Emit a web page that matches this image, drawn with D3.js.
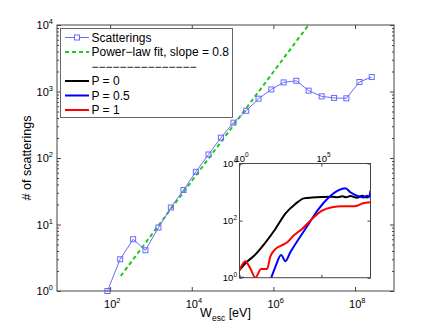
<!DOCTYPE html>
<html>
<head>
<meta charset="utf-8">
<script src="https://cdn.jsdelivr.net/npm/d3@7"></script>
<style>
  body { margin: 0; background: #fff; }
  text { font-family: "Liberation Sans", Arial, sans-serif; fill: #000; }
</style>
</head>
<body>
<svg width="436" height="328"></svg>
<script>
// datos principales
const scatX = [86, 176, 366, 734, 1530, 3080, 6270, 1.26e4, 2.57e4, 5.18e4, 1.05e5, 2.16e5,
               4.33e5, 8.88e5, 1.78e6, 3.64e6, 7.3e6, 1.52e7, 3.06e7, 6.13e7, 1.28e8, 2.56e8];
const scatY = [1, 3, 6, 4.1, 9, 18, 33, 62, 113, 202, 340, 513,
               780, 1075, 1370, 1450, 1030, 845, 800, 790, 1390, 1650];
const fitX = [182, 7.24e6];
const fitY = [1.68, 1e4];

// datos del recuadro
const p0X = [1, 2.3, 9.3, 38, 155, 630, 2570, 8300, 2.7e4, 1.1e5, 4.5e5, 1e6, 1.9e6, 3.2e6, 5.9e6, 1.5e7, 3.1e7, 6.2e7, 1e8];
const p0Y = [1.86, 3.2, 6.5, 17, 51, 174, 380, 600, 645, 675, 690, 660, 710, 660, 725, 630, 740, 645, 775];
const p05X = [1, 1.8, 2.5, 32, 87, 155, 350, 630, 1290, 4200, 1.7e4, 6.9e4, 2.8e5, 1.15e6, 2.95e6, 5.9e6, 1.5e7, 3.9e7, 6.2e7, 7.9e7, 1e8];
const p05Y = [1, 1, 0.3, 0.16, 1, 2.4, 6.2, 3.8, 7.9, 23, 78, 257, 645, 1175, 1350, 980, 740, 645, 740, 660, 1120];
const p1X = [1, 2.3, 4.6, 9.3, 21, 48, 76, 155, 400, 790, 2040, 6600, 2.7e4, 1.1e5, 4.5e5, 1.9e6, 7.6e6, 1.5e7, 3.1e7, 1e8];
const p1Y = [1.86, 3.8, 2.1, 1, 2, 2, 5.4, 10, 13.8, 17, 30, 51, 115, 224, 295, 316, 316, 331, 400, 436];

// ejes y leyenda
const mainXTicks = [1e2, 1e4, 1e6, 1e8];
const mainYTicks = [1, 10, 100, 1000, 10000];
const insetXTicks = [1, 1e5];
const insetYTicks = [1, 100, 10000];
const legendLabels = ["Scatterings", "Power\u2212law fit, slope = 0.8",
  "\u2212\u2212\u2212\u2212\u2212\u2212\u2212\u2212\u2212\u2212\u2212\u2212\u2212\u2212\u2212",
  "P = 0", "P = 0.5", "P = 1"];

const svg = d3.select("svg");
const axisColor = "#444";
const scatColor = "#6a6aff";
const fitColor = "#1ec81e";

const x = d3.scaleLog().domain([5, 9e8]).range([57, 394]);
const y = d3.scaleLog().domain([1, 1e4]).range([291, 25]);

// minor ticks en y
const minorY = [];
for (let d = 1; d < 1e4; d *= 10) for (let k = 2; k <= 9; k++) minorY.push(d * k);

function exp10(v) { return Math.round(Math.log10(v)); }

// texto "10^n"
function powLabel(g, px, py, v, size, anchor) {
  const t = g.append("text").attr("x", px).attr("y", py)
    .attr("font-size", size).attr("text-anchor", anchor);
  t.append("tspan").text("10");
  t.append("tspan").attr("dy", -size * 0.45).attr("font-size", size * 0.68).text(exp10(v));
  return t;
}

function drawTicks(g, xs, ys, xTicks, yTicks, yMinor, big) {
  const [x0, x1] = xs.range(), [y0, y1] = ys.range();
  g.append("g").attr("transform", `translate(0,${y0})`)
    .call(d3.axisBottom(xs).tickValues(xTicks).tickSize(-big).tickSizeOuter(0).tickFormat(""));
  g.append("g").attr("transform", `translate(0,${y1})`)
    .call(d3.axisTop(xs).tickValues(xTicks).tickSize(-big).tickSizeOuter(0).tickFormat(""));
  g.append("g").attr("transform", `translate(${x0},0)`)
    .call(d3.axisLeft(ys).tickValues(yTicks).tickSize(-big).tickSizeOuter(0).tickFormat(""));
  g.append("g").attr("transform", `translate(${x1},0)`)
    .call(d3.axisRight(ys).tickValues(yTicks).tickSize(-big).tickSizeOuter(0).tickFormat(""));
  if (yMinor) {
    g.append("g").attr("transform", `translate(${x0},0)`)
      .call(d3.axisLeft(ys).tickValues(yMinor).tickSize(-2).tickSizeOuter(0).tickFormat(""));
    g.append("g").attr("transform", `translate(${x1},0)`)
      .call(d3.axisRight(ys).tickValues(yMinor).tickSize(-2).tickSizeOuter(0).tickFormat(""));
  }
  g.selectAll(".domain").remove();
  g.selectAll(".tick line").attr("stroke", axisColor);
  g.append("rect").attr("x", x0).attr("y", y1).attr("width", x1 - x0).attr("height", y0 - y1)
    .attr("fill", "none").attr("stroke", axisColor);
}

svg.append("defs").append("clipPath").attr("id", "clipMain")
  .append("rect").attr("x", 57).attr("y", 25).attr("width", 337).attr("height", 266);

// ajuste potencia
svg.append("path")
  .attr("clip-path", "url(#clipMain)")
  .attr("d", d3.line().x(d => x(d[0])).y(d => y(d[1]))(d3.zip(fitX, fitY)))
  .attr("fill", "none").attr("stroke", fitColor).attr("stroke-width", 2).attr("stroke-dasharray", "4,3");

// scatterings
const scat = d3.zip(scatX, scatY);
svg.append("path")
  .attr("d", d3.line().x(d => x(d[0])).y(d => y(d[1]))(scat))
  .attr("fill", "none").attr("stroke", scatColor).attr("stroke-width", 1);
svg.selectAll(".sq").data(scat).join("rect")
  .attr("x", d => x(d[0]) - 2.5).attr("y", d => y(d[1]) - 2.5)
  .attr("width", 5).attr("height", 5)
  .attr("fill", "none").attr("stroke", scatColor).attr("stroke-width", 1);

drawTicks(svg.append("g"), x, y, mainXTicks, mainYTicks, minorY, 4);

// etiquetas de ejes
mainXTicks.forEach(v => powLabel(svg, x(v) - 6, 308, v, 11, "start"));
mainYTicks.forEach(v => powLabel(svg, 53, y(v) + 4, v, 11, "end"));

const xl = svg.append("text").attr("x", 225.5).attr("y", 317).attr("text-anchor", "middle").attr("font-size", 12.5);
xl.append("tspan").text("W");
xl.append("tspan").attr("dy", 4).attr("font-size", 8.5).text("esc");
xl.append("tspan").attr("dy", -4).text(" [eV]");

svg.append("text").attr("transform", "translate(31,158) rotate(-90)")
  .attr("text-anchor", "middle").attr("font-size", 12.5).text("# of scatterings");

// leyenda
const leg = svg.append("g");
leg.append("rect").attr("x", 60.5).attr("y", 28.5).attr("width", 172).attr("height", 89)
  .attr("fill", "#fff").attr("stroke", "#666");
const legStyles = [
  { c: scatColor, w: 1, dash: null, mark: true },
  { c: fitColor, w: 2, dash: "4,3" },
  null,
  { c: "#000", w: 2 },
  { c: "#0000ff", w: 2 },
  { c: "#ff0000", w: 2 }
];
legendLabels.forEach((lab, i) => {
  const ly = 37.5 + i * 14.5;
  const s = legStyles[i];
  if (s) {
    leg.append("line").attr("x1", 65).attr("x2", 89).attr("y1", ly).attr("y2", ly)
      .attr("stroke", s.c).attr("stroke-width", s.w).attr("stroke-dasharray", s.dash);
    if (s.mark) leg.append("rect").attr("x", 74.5).attr("y", ly - 2.5).attr("width", 5).attr("height", 5)
      .attr("fill", "#fff").attr("stroke", s.c);
  }
  leg.append("text").attr("x", 91.5).attr("y", ly + 4.3).attr("font-size", 12).text(lab);
});

// recuadro
const ix = d3.scaleLog().domain([1, 1e8]).range([239.5, 370.5]);
const iy = d3.scaleLog().domain([1, 1e4]).range([277.7, 163.5]);
const inset = svg.append("g");
inset.append("rect").attr("x", 239.5).attr("y", 163.5).attr("width", 131).attr("height", 114.2).attr("fill", "#fff");
svg.select("defs").append("clipPath").attr("id", "clipInset")
  .append("rect").attr("x", 239.5).attr("y", 163.5).attr("width", 131).attr("height", 114.2);

const iline = d3.line().x(d => ix(d[0])).y(d => iy(d[1])).curve(d3.curveMonotoneX);
[[p0X, p0Y, "#000"], [p05X, p05Y, "#0000ff"], [p1X, p1Y, "#ff0000"]].forEach(([xs, ys, c]) => {
  inset.append("path").attr("clip-path", "url(#clipInset)")
    .attr("d", iline(d3.zip(xs, ys)))
    .attr("fill", "none").attr("stroke", c).attr("stroke-width", 2);
});

drawTicks(inset.append("g"), ix, iy, insetXTicks, insetYTicks, null, 3);
insetXTicks.forEach(v => powLabel(inset, ix(v) - 5, 161.5, v, 9.5, "start"));
insetYTicks.forEach(v => powLabel(inset, 237, iy(v) + 3.5, v, 9.5, "end"));
</script>
</body>
</html>
